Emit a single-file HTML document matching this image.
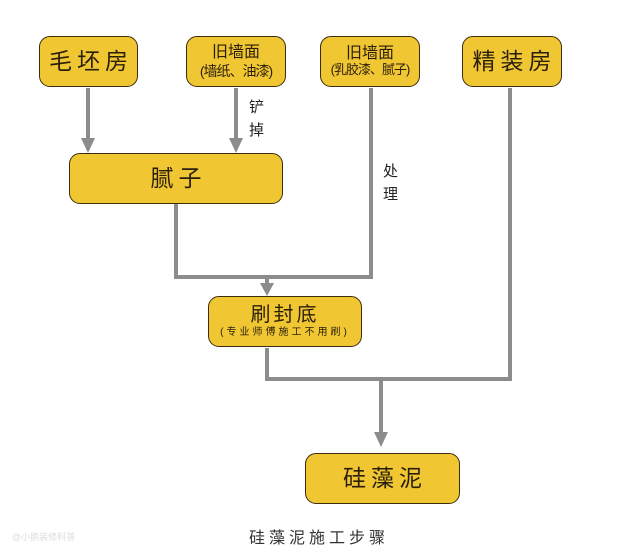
<!DOCTYPE html>
<html><head><meta charset="utf-8"><style>
body{margin:0;width:640px;height:554px;background:#fff;position:relative;overflow:hidden;font-family:"Liberation Sans","Noto Sans CJK SC",sans-serif;}
.b{position:absolute;box-sizing:border-box;background:#f0c633;border:1.5px solid #3b2c10;border-radius:11px;display:flex;flex-direction:column;align-items:center;justify-content:center;color:#2a1f0a;text-align:center;line-height:1.15}
.big{font-size:23px;letter-spacing:5px;padding-left:5px}
.t{position:absolute;font-size:15px;color:#222;line-height:1.5}
</style></head><body>
<svg width="640" height="554" style="position:absolute;left:0;top:0">
<g stroke="#8c8c8c" stroke-width="4" fill="none">
<line x1="88" y1="88" x2="88" y2="140"/>
<line x1="236" y1="88" x2="236" y2="140"/>
<polyline points="176,204 176,277 371,277 371,88"/>
<line x1="267" y1="277" x2="267" y2="285"/>
<polyline points="267,348 267,379 510,379 510,88"/>
<line x1="381" y1="379" x2="381" y2="435"/>
</g>
<g fill="#8c8c8c">
<polygon points="81,138 95,138 88,153"/>
<polygon points="229,138 243,138 236,153"/>
<polygon points="260,283 274,283 267,296"/>
<polygon points="374,432 388,432 381,447"/>
</g>
</svg>
<div class="b big" style="left:39px;top:36px;width:99px;height:51px">毛坯房</div>
<div class="b" style="left:186px;top:36px;width:100px;height:51px;font-size:16px">旧墙面<span style="font-size:14px;letter-spacing:-1px">(墙纸、油漆)</span></div>
<div class="b" style="left:320px;top:36px;width:100px;height:51px;font-size:16px">旧墙面<span style="font-size:13px;letter-spacing:-1px">(乳胶漆、腻子)</span></div>
<div class="b big" style="left:462px;top:36px;width:100px;height:51px">精装房</div>
<div class="b big" style="left:69px;top:153px;width:214px;height:51px">腻子</div>
<div class="b" style="left:208px;top:296px;width:154px;height:51px"><span style="font-size:20px;letter-spacing:3px">刷封底</span><span style="font-size:10px;letter-spacing:3px">(专业师傅施工不用刷)</span></div>
<div class="b big" style="left:305px;top:453px;width:155px;height:51px">硅藻泥</div>
<div class="t" style="left:249px;top:97px;width:16px">铲<br>掉</div>
<div class="t" style="left:383px;top:161px;width:16px">处<br>理</div>
<div style="position:absolute;left:249px;top:524px;font-size:16px;letter-spacing:4px;color:#333">硅藻泥施工步骤</div>
<div style="position:absolute;left:12px;top:530px;font-size:9px;color:#ddd">@小鹅装修科普</div>
</body></html>
